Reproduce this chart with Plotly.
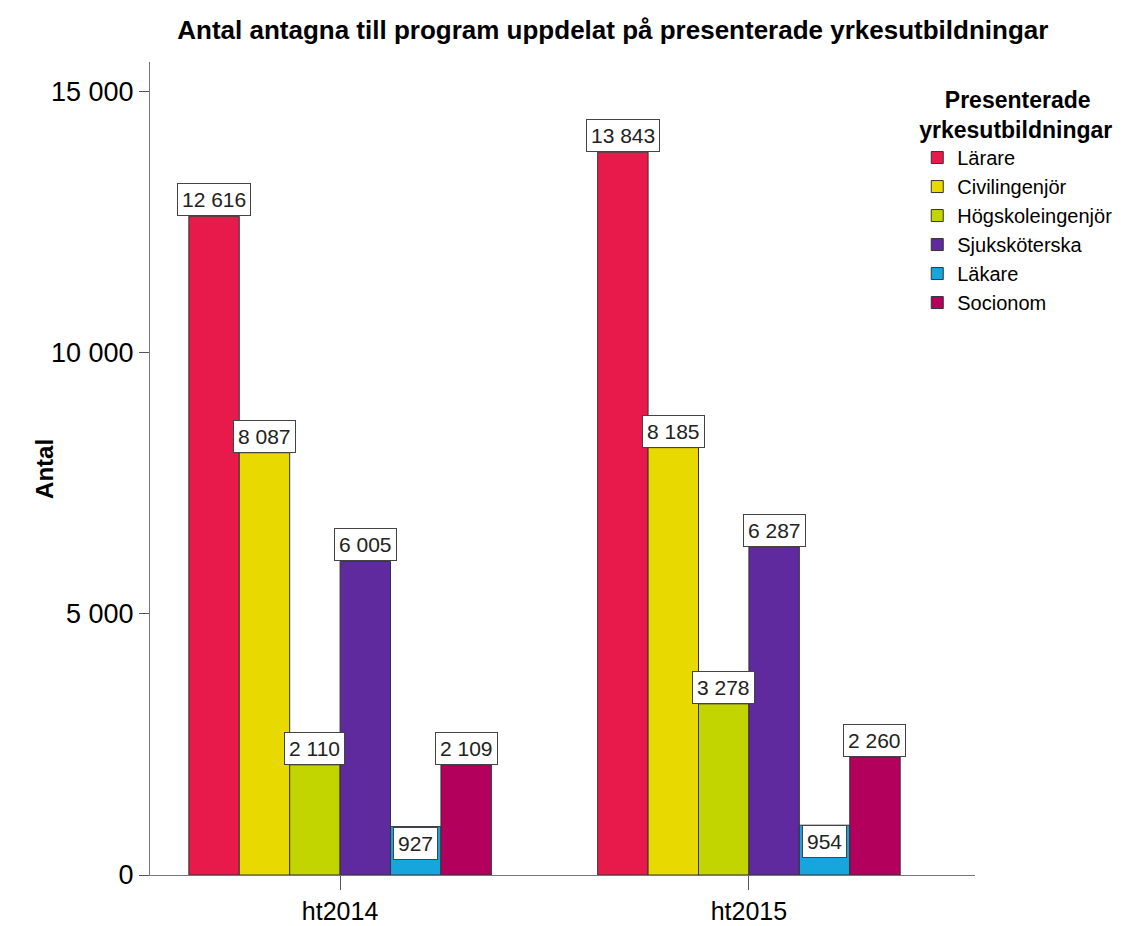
import plotly.graph_objects as go

# data
terms = ['ht2014', 'ht2015']
programs = ['Lärare', 'Civilingenjör', 'Högskoleingenjör', 'Sjuksköterska', 'Läkare', 'Socionom']
larare = [12616, 13843]
civilingenjor = [8087, 8185]
hogskoleingenjor = [2110, 3278]
sjukskoterska = [6005, 6287]
lakare = [927, 954]
socionom = [2109, 2260]
colors = ['#E8194B', '#E8D900', '#C3D500', '#5E2A9E', '#16A5DC', '#B2005C']

values = [larare, civilingenjor, hogskoleingenjor, sjukskoterska, lakare, socionom]

font = 'Liberation Sans, Arial, sans-serif'
bargap = 0.26


def fmt(v):
    return f'{v:,}'.replace(',', ' ')


fig = go.Figure()
for name, vals, col in zip(programs, values, colors):
    fig.add_trace(go.Bar(
        x=terms, y=vals, name=name,
        marker=dict(color=col, line=dict(color='#333333', width=1)),
        hoverinfo='x+y+name',
    ))

# value boxes above each bar (small values go inside the bar top)
n = len(programs)
bw = (1 - bargap) / n
annotations = []
for i, vals in enumerate(values):
    off = -(1 - bargap) / 2 + (i + 0.5) * bw
    for j, v in enumerate(vals):
        inside = v < 1500
        annotations.append(dict(
            x=j + off, y=v, xref='x', yref='y', text=fmt(v), showarrow=False,
            yanchor='top' if inside else 'bottom',
            font=dict(family=font, size=21, color='#222'),
            bgcolor='white', bordercolor='#444', borderwidth=1, borderpad=4,
        ))

# y axis title
annotations.append(dict(
    x=-0.128, y=0.5, xref='paper', yref='paper', text='<b>Antal</b>', textangle=-90,
    showarrow=False, xanchor='center', yanchor='middle',
    font=dict(family=font, size=24, color='black'),
))

fig.update_layout(
    width=1122, height=918,
    title=dict(text='<b>Antal antagna till program uppdelat på presenterade yrkesutbildningar</b>',
               xref='paper', x=0.561, xanchor='center', y=0.976, yanchor='middle',
               font=dict(family=font, size=26, color='black')),
    font=dict(family=font, color='black'),
    separators=', ',
    barmode='group', bargap=bargap, bargroupgap=0,
    paper_bgcolor='white', plot_bgcolor='white',
    margin=dict(l=142, r=155, t=54, b=51, autoexpand=False),
    annotations=annotations,
    legend=dict(
        title=dict(text='<b>&nbsp;&nbsp;&nbsp;&nbsp;Presenterade<br>yrkesutbildningar</b>', side='top',
                   font=dict(family=font, size=23)),
        font=dict(family=font, size=20),
        x=0.93, xanchor='left', y=0.98, yanchor='top',
        bgcolor='rgba(0,0,0,0)', tracegroupgap=0, itemwidth=30,
    ),
)
fig.update_xaxes(
    range=[-0.465, 1.553], showline=True, linecolor='#777', linewidth=1,
    ticks='outside', ticklen=14, tickcolor='#555',
    tickfont=dict(family=font, size=25, color='black'), showgrid=False,
)
fig.update_yaxes(
    range=[0, 15570], tickvals=[0, 5000, 10000, 15000], tickformat=',d',
    showline=True, linecolor='#777', linewidth=1,
    ticks='outside', ticklen=10, tickcolor='#555',
    tickfont=dict(family=font, size=27, color='black'), showgrid=False, zeroline=False,
)

fig.write_html('out.html')
